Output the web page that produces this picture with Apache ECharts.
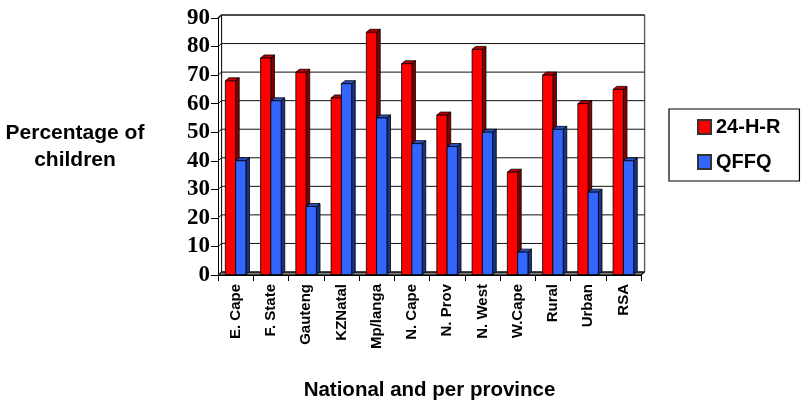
<!DOCTYPE html>
<html><head><meta charset="utf-8">
<style>html,body{margin:0;padding:0;background:#fff}#c{width:802px;height:402px}</style>
<script src="https://cdn.jsdelivr.net/npm/echarts@6/dist/echarts.min.js"></script>
</head><body><div id="c"></div>
<script>
const categories = ['E. Cape','F. State','Gauteng','KZNatal','Mp/langa','N. Cape','N. Prov','N. West','W.Cape','Rural','Urban','RSA'];
const recall24 = [68,76,71,62,85,74,56,79,36,70,60,65];
const qffq = [40,61,24,67,55,46,45,50,8,51,29,40];
const yTicks = [0,10,20,30,40,50,60,70,80,90];
const DX = 3.6, DY = 3;

const chart = echarts.init(document.getElementById('c'), null, {renderer:'canvas'});

function wall(params, api){
  const v = api.value(1);
  const half = api.size([1,0])[0]/2;
  const p0 = api.coord([0, v]);
  const pN = api.coord([categories.length-1, v]);
  const x0 = p0[0]-half, x1 = pN[0]+half, y = p0[1];
  const children = [];
  const st = {stroke:'#000', lineWidth:1};
  children.push({type:'polyline', shape:{points:[[x0,y],[x0+DX,y-DY],[x1+DX,y-DY]]},
    style:{stroke:'#111', lineWidth: v===90?1.6:1, fill:null}, silent:true});
  if(v===0){
    children.unshift({type:'polygon', shape:{points:[[x0,y],[x0+DX,y-DY],[x1+DX,y-DY],[x1,y]]},
      style:{fill:'#808080', stroke:'#000', lineWidth:1}, silent:true});
    const t = api.coord([0,90])[1];
    children.push({type:'line', shape:{x1:x0+DX,y1:y-DY,x2:x0+DX,y2:t-DY}, style:st, silent:true});
    children.push({type:'line', shape:{x1:x1+DX,y1:y-DY,x2:x1+DX,y2:t-DY}, style:{stroke:'#555',lineWidth:1.3}, silent:true});
    children.push({type:'line', shape:{x1:x1,y1:y,x2:x1+DX,y2:y-DY}, style:st, silent:true});
  }
  return {type:'group', children};
}

function bar3d(front, top, side, slot){
  return function(params, api){
    const i = api.value(0), v = api.value(1);
    const c = api.coord([i, v]), b = api.coord([i, 0]);
    const w = api.size([1,0])[0]*0.292;
    const x = c[0] + (slot===0 ? -w : 0), y = c[1], base = b[1]-0.5;
    const st = {stroke:'#000', lineWidth:0.8};
    return {type:'group', children:[
      {type:'polygon', shape:{points:[[x+w,y],[x+w+DX,y-DY],[x+w+DX,base-DY],[x+w,base]]}, style:{fill:side,...st}},
      {type:'polygon', shape:{points:[[x,y],[x+DX,y-DY],[x+w+DX,y-DY],[x+w,y]]}, style:{fill:top,...st}},
      {type:'rect', shape:{x:x,y:y,width:w,height:base-y}, style:{fill:front,...st}}
    ]};
  };
}

chart.setOption({
  animation:false,
  backgroundColor:'#fff',
  grid:{left:218,top:18,width:423,height:257,containLabel:false,outerBoundsMode:'none'},
  legend:{
    left:669, top:109, orient:'vertical', icon:'rect',
    data:['24-H-R','QFFQ'],
    itemWidth:13, itemHeight:14, itemGap:15,
    padding:[8,19,9,28],
    borderColor:'#000', borderWidth:1.2,
    textStyle:{fontFamily:'Liberation Sans',fontWeight:'bold',fontSize:20,color:'#000',padding:[0,0,0,0]}
  },
  xAxis:{
    type:'category', data:categories, boundaryGap:true,
    name:'National and per province', nameLocation:'middle', nameGap:105,
    nameTextStyle:{fontFamily:'Liberation Sans',fontWeight:'bold',fontSize:20.5,color:'#000'},
    axisLine:{show:true,lineStyle:{color:'#000',width:1}},
    axisTick:{show:true,length:6,lineStyle:{color:'#000',width:1}},
    axisLabel:{rotate:90,interval:0,margin:9,fontFamily:'Liberation Sans',fontWeight:'bold',fontSize:15,color:'#000'},
    splitLine:{show:false}
  },
  yAxis:{
    type:'value', min:0, max:90, interval:10,
    name:'Percentage of\nchildren', nameLocation:'middle', nameRotate:0, nameGap:143,
    nameTextStyle:{fontFamily:'Liberation Sans',fontWeight:'bold',fontSize:21,color:'#000',lineHeight:27,align:'center',padding:[0,0,6,0]},
    axisLine:{show:true,lineStyle:{color:'#000',width:1}},
    axisTick:{show:true,length:7,lineStyle:{color:'#000',width:1}},
    axisLabel:{margin:8,fontFamily:'Liberation Serif',fontWeight:'bold',fontSize:23,color:'#000'},
    splitLine:{show:false}
  },
  series:[
    {type:'custom',name:'wall',silent:true,clip:false,z:1,renderItem:wall,
     data:yTicks.map(v=>[0,v]),encode:{x:0,y:1}},
    {type:'custom',name:'24-H-R',clip:false,z:2,itemStyle:{color:'#ff0000',borderColor:'#333',borderWidth:1},
     renderItem:bar3d('#ff0000','#c00000','#800000',0),
     data:recall24.map((v,i)=>[i,v]),encode:{x:0,y:1}},
    {type:'custom',name:'QFFQ',clip:false,z:3,itemStyle:{color:'#3366ff',borderColor:'#333',borderWidth:1},
     renderItem:bar3d('#3366ff','#2a50c0','#1a3380',1),
     data:qffq.map((v,i)=>[i,v]),encode:{x:0,y:1}}
  ]
});
</script></body></html>
